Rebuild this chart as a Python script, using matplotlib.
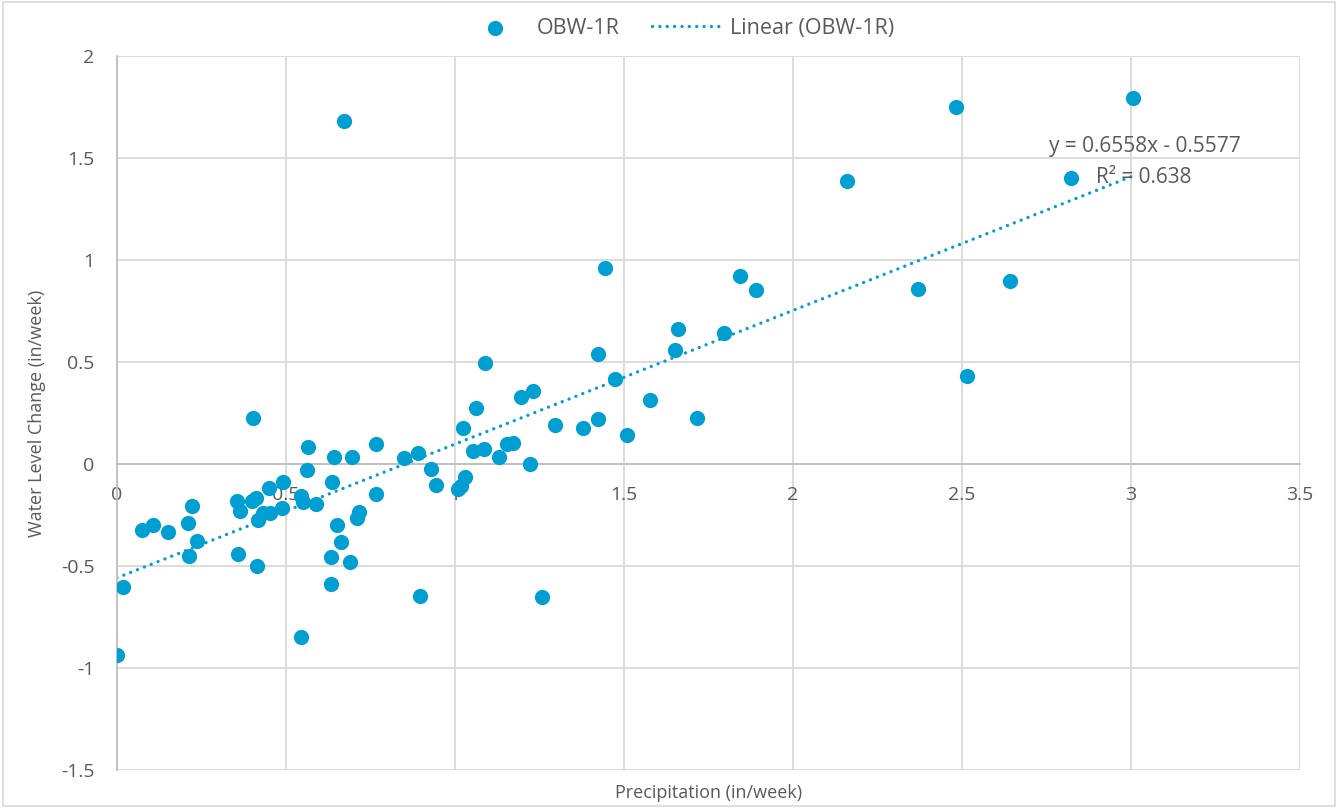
import numpy as np
import matplotlib
matplotlib.use('Agg')
import matplotlib.pyplot as plt
from matplotlib.patches import Rectangle

plt.rc('font', family='Open Sans', size=13)

# weekly precipitation (in/week) vs water level change (in/week), well OBW-1R
precip = [0.000, 0.019, 0.073, 0.107, 0.152, 0.211, 0.221, 0.236, 0.214, 0.354,
          0.364, 0.359, 0.403, 0.399, 0.411, 0.450, 0.433, 0.418, 0.453, 0.487,
          0.492, 0.413, 0.546, 0.549, 0.561, 0.564, 0.590, 0.637, 0.643, 0.652,
          0.664, 0.632, 0.689, 0.632, 0.696, 0.710, 0.715, 0.765, 0.766, 0.849,
          0.891, 0.928, 0.943, 0.896, 1.009, 1.018, 1.030, 1.025, 1.061, 1.089,
          1.054, 1.087, 1.130, 1.153, 1.172, 1.195, 1.232, 1.222, 1.296, 1.380,
          1.424, 1.424, 1.473, 1.508, 1.444, 1.577, 1.651, 1.660, 1.716, 1.796,
          1.843, 1.891, 2.160, 2.370, 2.482, 2.515, 2.642, 2.822, 3.006, 0.672,
          0.544, 1.257]
level = [-0.936, -0.601, -0.324, -0.296, -0.335, -0.288, -0.204, -0.377, -0.451, -0.180,
         -0.229, -0.441, 0.227, -0.180, -0.167, -0.116, -0.242, -0.275, -0.239, -0.214,
         -0.087, -0.500, -0.157, -0.185, -0.029, 0.086, -0.197, -0.087, 0.034, -0.296,
         -0.384, -0.457, -0.482, -0.588, 0.037, -0.265, -0.234, 0.101, -0.146, 0.032,
         0.056, -0.023, -0.100, -0.647, -0.120, -0.105, -0.064, 0.175, 0.273, 0.494,
         0.064, 0.072, 0.036, 0.098, 0.106, 0.330, 0.358, 0.000, 0.191, 0.175,
         0.219, 0.538, 0.420, 0.142, 0.961, 0.317, 0.559, 0.662, 0.225, 0.642,
         0.922, 0.853, 1.387, 0.858, 1.750, 0.431, 0.897, 1.402, 1.794, 1.681,
         -0.848, -0.652]

slope = 0.6558
intercept = -0.5577
r2 = 0.638

blue = '#009FD1'
grey_txt = '#595959'

fig = plt.figure(figsize=(13.38, 8.08), dpi=100)
ax = fig.add_axes([0.0874, 0.047, 0.8842, 0.8833])

ax.scatter(precip, level, s=120, color=blue, zorder=3, label='OBW-1R', linewidths=0)

# linear trendline over the range of the data
xfit = np.array([min(precip), max(precip)])
ax.plot(xfit, slope * xfit + intercept, color=blue, lw=2.4,
        linestyle=(0, (0.01, 2.2)), dash_capstyle='round', zorder=2, label='Linear (OBW-1R)')

ax.text(3.325, 1.56, 'y = %.4fx - %.4f' % (slope, -intercept), ha='right', va='center',
        color=grey_txt, fontsize=15, zorder=4)
ax.text(3.18, 1.405, 'R² = %.3f' % r2, ha='right', va='center',
        color=grey_txt, fontsize=15, zorder=4)

ax.set_xlim(0, 3.5)
ax.set_ylim(-1.5, 2)
ax.set_xticks(np.arange(0, 3.51, 0.5))
ax.set_yticks(np.arange(-1.5, 2.01, 0.5))
ax.set_xticklabels(['0', '0.5', '1', '1.5', '2', '2.5', '3', '3.5'])
ax.set_yticklabels(['-1.5', '-1', '-0.5', '0', '0.5', '1', '1.5', '2'])
ax.grid(True, color='#D9D9D9', lw=1.3, zorder=0)
ax.set_axisbelow(True)

for s in ['top', 'right']:
    ax.spines[s].set_visible(False)
ax.spines['left'].set_color('#BFBFBF')
ax.spines['left'].set_linewidth(1.3)
ax.spines['bottom'].set_position(('data', 0))
ax.spines['bottom'].set_color('#BFBFBF')
ax.spines['bottom'].set_linewidth(1.3)
ax.tick_params(axis='both', length=0, colors=grey_txt, labelsize=14)
ax.tick_params(axis='x', pad=16)
ax.tick_params(axis='y', pad=16)

ax.set_xlabel('Precipitation (in/week)', fontsize=13, color=grey_txt, labelpad=0)
ax.xaxis.set_label_coords(0.5, -0.02)
ax.set_ylabel('Water Level Change (in/week)', fontsize=13, color=grey_txt)
ax.yaxis.set_label_coords(-0.06, 0.5)

leg = fig.legend(loc='center', bbox_to_anchor=(0.5056, 0.965), ncol=2, frameon=False,
                 fontsize=15.5, handlelength=3.3, columnspacing=1.5, handletextpad=0.3)
for t in leg.get_texts():
    t.set_color(grey_txt)

fig.patches.append(Rectangle((0.002, 0.003), 0.996, 0.994, transform=fig.transFigure,
                             fill=False, edgecolor='#D9D9D9', lw=1.2))

fig.savefig('out.png', dpi=100)
